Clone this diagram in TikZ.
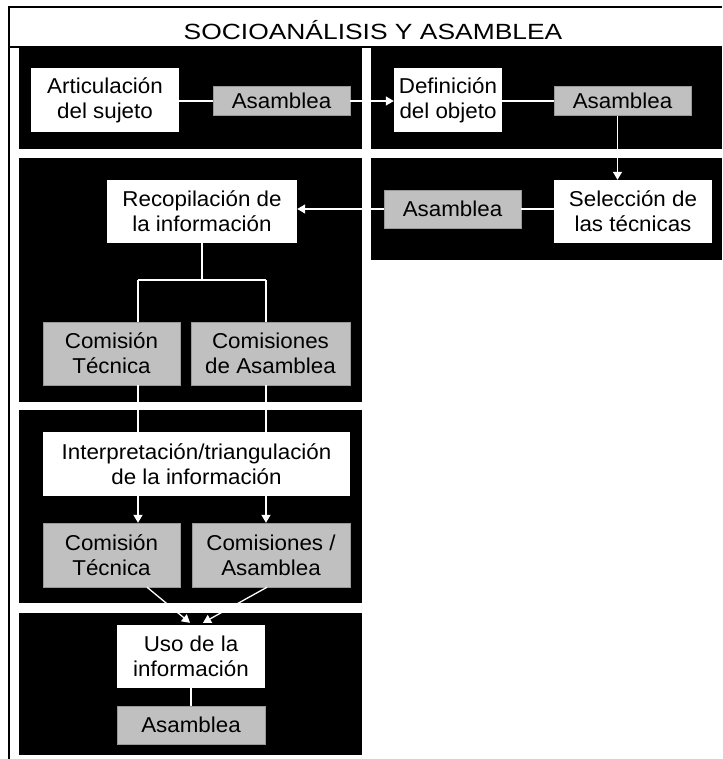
\documentclass[tikz,border=0pt]{standalone}
\usepackage{fontspec}
\setmainfont{Liberation Sans}[FakeStretch=1.04]
\newfontfamily\titlefamily{Liberation Sans}[FakeStretch=1.2]
\usetikzlibrary{arrows.meta,calc}
\definecolor{boxgray}{RGB}{192,192,192}
\newcommand{\bodyfont}{\fontsize{21.5}{25}\selectfont}
\newcommand{\headfont}{\titlefamily\fontsize{22}{24}\selectfont}
\tikzset{
  card/.style={align=center, inner sep=0pt, font=\bodyfont, text=black},
  whitebox/.style={card, fill=white},
  graybox/.style={card, fill=boxgray, draw=gray!80, line width=0.4pt},
  panel/.style={fill=black},
  frame/.style={draw=black, line width=1.3pt},
  link/.style={draw=white, line width=1.3pt},
  arrowlink/.style={link, -{Triangle[width=9pt,length=8pt]}}
}
\begin{document}
\begin{tikzpicture}[x=1pt,y=-1pt]
\useasboundingbox (0,0) rectangle (722,759);

% outer frame and title bar
\draw[frame] (9,759) -- (9,7) -- (722,7);
\draw[frame] (9,47) -- (722,47);
\node[font=\headfont] (title) at (373,30) {SOCIOANÁLISIS Y ASAMBLEA};

% black panels
\fill[panel] (19,48) rectangle (362,149);
\fill[panel] (371,48) rectangle (722,149);
\fill[panel] (19,158) rectangle (362,402);
\fill[panel] (371,158) rectangle (722,260);
\fill[panel] (19,410) rectangle (362,603);
\fill[panel] (19,613) rectangle (362,755);

% boxes
\node[whitebox, minimum width=148pt, minimum height=64pt] (art) at (105,100) {Articulación\\del sujeto};
\node[graybox, minimum width=137pt, minimum height=29pt] (as1) at (281.5,101) {Asamblea};
\node[whitebox, minimum width=108pt, minimum height=64pt] (def) at (448,100) {Definición\\del objeto};
\node[graybox, minimum width=137pt, minimum height=29pt] (as2) at (622.5,101) {Asamblea};
\node[whitebox, minimum width=158pt, minimum height=63pt] (sel) at (633,211.5) {Selección de\\las técnicas};
\node[graybox, minimum width=137pt, minimum height=38pt] (as3) at (452.5,209) {Asamblea};
\node[whitebox, minimum width=190pt, minimum height=63pt] (rec) at (202,211.5) {Recopilación de\\la información};
\node[graybox, minimum width=137pt, minimum height=63pt] (ct1) at (111.5,353.5) {Comisión\\Técnica};
\node[graybox, minimum width=159pt, minimum height=63pt] (ca1) at (270.5,353.5) {Comisiones\\de Asamblea};
\node[whitebox, minimum width=307pt, minimum height=64pt] (int) at (196.5,464) {Interpretación/triangulación\\de la información};
\node[graybox, minimum width=137pt, minimum height=64pt] (ct2) at (111.5,555) {Comisión\\Técnica};
\node[graybox, minimum width=158pt, minimum height=64pt] (ca2) at (271,555) {Comisiones /\\Asamblea};
\node[whitebox, minimum width=148pt, minimum height=63pt] (uso) at (191,656.5) {Uso de la\\información};
\node[graybox, minimum width=148pt, minimum height=38pt] (as4) at (191,725) {Asamblea};

% branch points and connector ends
\coordinate (jL) at (138,280);
\coordinate (jR) at (266,280);
\coordinate (drop) at ($(as2.south)+(-5,0)$);
\coordinate (ctOut) at ($(ct2.south)+(35.5,0)$);
\coordinate (caOut) at ($(ca2.south)+(-4,0)$);
\coordinate (usoInL) at ($(uso.north)+(-1,-2)$);
\coordinate (usoInR) at ($(uso.north)+(12,-2)$);

% connectors
\draw[link] (art.east |- as1.west) -- (as1.west);
\draw[arrowlink] (as1.east) -- (as1.east -| def.west);
\draw[link] (def.east |- as2.west) -- (as2.west);
\draw[arrowlink] (drop) -- (drop |- sel.north);
\draw[link] (sel.west |- as3.east) -- (as3.east);
\draw[arrowlink] (as3.west) -- (as3.west -| rec.east);
\draw[link] (rec.south) -- (rec.south |- jL);
\draw[link] (jL) -- (jR);
\draw[link] (jL) -- (jL |- ct1.north);
\draw[link] (jR) -- (jR |- ca1.north);
\draw[link] (jL |- ct1.south) -- (jL |- int.north);
\draw[link] (jR |- ca1.south) -- (jR |- int.north);
\draw[arrowlink] (jL |- int.south) -- (jL |- ct2.north);
\draw[arrowlink] (jR |- int.south) -- (jR |- ca2.north);
\draw[arrowlink] (ctOut) -- (usoInL);
\draw[arrowlink] (caOut) -- (usoInR);
\draw[link] (uso.south) -- (as4.north);
\end{tikzpicture}
\end{document}
